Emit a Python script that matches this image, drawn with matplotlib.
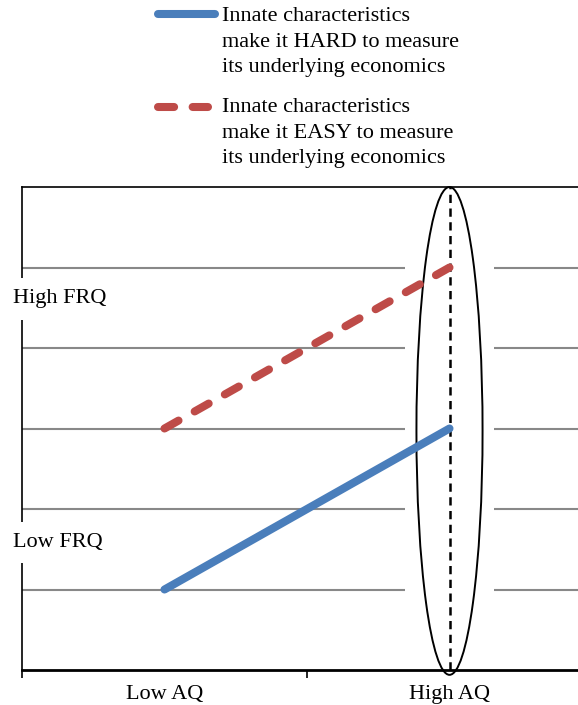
import matplotlib
matplotlib.use("Agg")
import matplotlib.pyplot as plt
from matplotlib.patches import Ellipse, Rectangle
from matplotlib.lines import Line2D

plt.rcParams['font.family'] = ['Liberation Serif', 'DejaVu Serif']

categories = ["Low AQ", "High AQ"]
x_pos = [0.5, 1.5]
hard = [1, 3]
easy = [3, 5]
hard_label = "Innate characteristics\nmake it HARD to measure\nits underlying economics"
easy_label = "Innate characteristics\nmake it EASY to measure\nits underlying economics"
y_labels = ["Low FRQ", "High FRQ"]
y_label_pos = [1.58, 4.61]

blue = "#4A7EBB"
red = "#BE4B48"
grid_gray = "#888888"
dash = (2.0, 2.3)

W, H = 578, 705
fig = plt.figure(figsize=(W / 100, H / 100), dpi=100)
# axes: left edge 22px, x unit 285px; bottom 670px, top 187px
ax = fig.add_axes([22 / W, (H - 670) / H, 570 / W, 483 / H])
ax.set_xlim(0, 2)
ax.set_ylim(0, 6)

for gy in range(1, 6):
    ax.axhline(gy, color=grid_gray, lw=1.5, zorder=1)

# white band behind the ellipse
ax.add_patch(Rectangle((1.345, 0), 0.31, 6, facecolor="white", edgecolor="none", zorder=2))

ell = Ellipse((1.5, 2.97), 0.232, 6.06, facecolor="none", edgecolor="black", lw=1.4,
              zorder=3, clip_on=False)
ax.add_patch(ell)
ax.plot([1.5, 1.5], [0, 6], color="black", lw=1.8, dashes=(3.3, 2.2), zorder=4)

l1, = ax.plot(x_pos, hard, color=blue, lw=5.8, solid_capstyle="round", zorder=5)
l2, = ax.plot(x_pos, easy, color=red, lw=5.8, dashes=dash, dash_capstyle="round", zorder=5)

for lab, yp in zip(y_labels, y_label_pos):
    ax.text(-0.032, yp, lab, fontsize=16, ha="left", va="center", zorder=6,
            bbox=dict(facecolor="white", edgecolor="none", pad=8), clip_on=False)

ax.spines["right"].set_visible(False)
ax.spines["left"].set_linewidth(1.2)
ax.spines["top"].set_linewidth(1.2)
ax.spines["bottom"].set_linewidth(2)
ax.set_yticks([])
ax.set_xticks([0, 1, 2])
ax.set_xticklabels([])
ax.tick_params(axis="x", which="major", length=6, width=1.2, direction="out")
ax.set_xticks(x_pos, minor=True)
ax.set_xticklabels(categories, minor=True, fontsize=16)
ax.tick_params(axis="x", which="minor", length=0, pad=11)

# legend drawn by hand so the keys sit beside the first text line
def fx(px):
    return px / W

def fy(px):
    return 1 - px / H

fig.add_artist(Line2D([fx(158), fx(215)], [fy(14), fy(14)], color=blue, lw=5.8,
                      solid_capstyle="round", transform=fig.transFigure))
fig.add_artist(Line2D([fx(158), fx(208)], [fy(107), fy(107)], color=red, lw=5.8,
                      dashes=dash, dash_capstyle="round", transform=fig.transFigure))
fig.text(fx(222), fy(7), hard_label, fontsize=16, va="top", ha="left", linespacing=1.48)
fig.text(fx(222), fy(98), easy_label, fontsize=16, va="top", ha="left", linespacing=1.48)

fig.savefig("out.png", dpi=100)
